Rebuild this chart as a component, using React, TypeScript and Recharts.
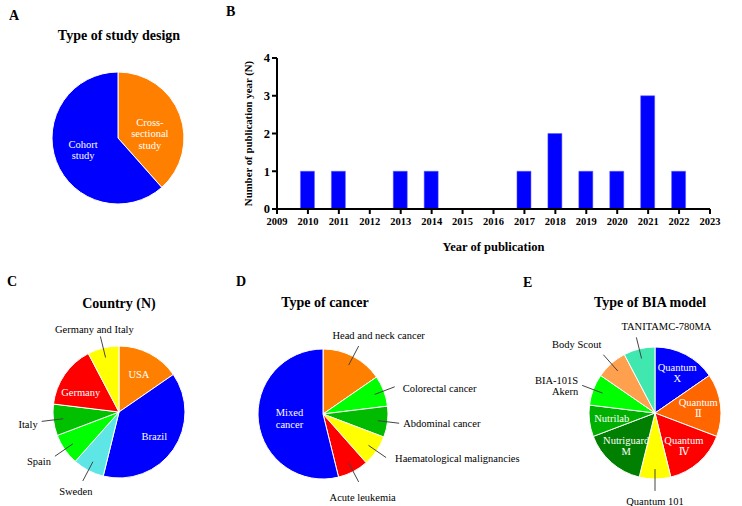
import React from "react";
import { PieChart, Pie, Cell, BarChart, Bar, XAxis, YAxis } from "recharts";

// ---------- Data ----------
const studyDesigns = ["Cross-\nsectional\nstudy", "Cohort\nstudy"];
const studyDesignCounts = [5, 8];

const years = [2010, 2011, 2012, 2013, 2014, 2015, 2016, 2017, 2018, 2019, 2020, 2021, 2022];
const yearCounts = [1, 1, 0, 1, 1, 0, 0, 1, 2, 1, 1, 3, 1];
const yearTicks = [2009, 2010, 2011, 2012, 2013, 2014, 2015, 2016, 2017, 2018, 2019, 2020, 2021, 2022, 2023];
const countTicks = [0, 1, 2, 3, 4];

const countries = ["USA", "Brazil", "Sweden", "Spain", "Italy", "Germany", "Germany and Italy"];
const countryCounts = [2, 5, 1, 1, 1, 2, 1];

const cancers = [
  "Head and neck cancer",
  "Colorectal cancer",
  "Abdominal cancer",
  "Haematological malignancies",
  "Acute leukemia",
  "Mixed\ncancer",
];
const cancerCounts = [2, 1, 1, 1, 1, 7];

const biaModels = [
  "Quantum\nX",
  "Quantum\nⅡ",
  "Quantum\nⅣ",
  "Quantum 101",
  "Nutriguard\nM",
  "Nutrilab",
  "BIA-101S\nAkern",
  "Body Scout",
  "TANITAMC-780MA",
];
const biaCounts = [2, 2, 2, 1, 2, 1, 1, 1, 1];

// ---------- Styles ----------
const FONT = "Liberation Serif, Tinos, Times New Roman, DejaVu Serif, serif";
const studyColors = ["#FF8000", "#0000FF"];
const countryColors = ["#FF8000", "#0000FF", "#5EE6E6", "#00FF00", "#00C000", "#FF0000", "#FFFF00"];
const cancerColors = ["#FF8000", "#00FF00", "#00BB00", "#FFFF00", "#FF0000", "#0000FF"];
const biaColors = ["#0000FF", "#FF6600", "#FF0000", "#FFFF00", "#007F00", "#00B000", "#00FF00", "#FFA04F", "#40E8B0"];

const countryOutside = ["Sweden", "Spain", "Italy", "Germany and Italy"];
const cancerOutside = [
  "Head and neck cancer",
  "Colorectal cancer",
  "Abdominal cancer",
  "Haematological malignancies",
  "Acute leukemia",
];
const biaOutside = ["Quantum 101", "BIA-101S\nAkern", "Body Scout", "TANITAMC-780MA"];
const labelNudge: Record<string, [number, number]> = {
  "Head and neck cancer": [20, -2],
  "TANITAMC-780MA": [30, -2],
  "Body Scout": [2, -11],
  "Acute leukemia": [4, 5],
  "Sweden": [-7, 0],
  "Spain": [0, 5],
  "Italy": [0, 3],
  "Germany and Italy": [-6, 2],
  "Colorectal cancer": [4, 1],
  "Haematological malignancies": [5, 0],
  "Cross-\nsectional\nstudy": [1, 7],
  "Cohort\nstudy": [-4, 0],
  "Germany": [-3, 4],
  "Quantum\nX": [2, -2],
};

const RAD = Math.PI / 180;
const LABEL_SIZE = 10.5;

function makeLabel(labels: string[], outside: string[], innerFactor: number) {
  return (p: any) => {
    const { cx, cy, midAngle, outerRadius, index } = p;
    const text = labels[index];
    const cos = Math.cos(-midAngle * RAD);
    const sin = Math.sin(-midAngle * RAD);
    const lines = text.split("\n");
    const n = labelNudge[text] || [0, 0];
    if (!outside.includes(text)) {
      const r = outerRadius * innerFactor;
      const x = cx + r * cos + n[0];
      const y = cy + r * sin + n[1];
      const lh = 11.5;
      const y0 = y - ((lines.length - 1) * lh) / 2;
      return (
        <text
          key={`in-${index}`}
          x={x}
          y={y0}
          fill="#fff"
          textAnchor="middle"
          dominantBaseline="central"
          style={{ fontFamily: FONT, fontSize: LABEL_SIZE }}
        >
          {lines.map((l, i) => (
            <tspan key={i} x={x} y={y0 + i * lh}>
              {l}
            </tspan>
          ))}
        </text>
      );
    }
    const x1 = cx + outerRadius * 0.85 * cos;
    const y1 = cy + outerRadius * 0.85 * sin;
    const x2 = cx + outerRadius * 1.18 * cos;
    const y2 = cy + outerRadius * 1.18 * sin;
    const anchor = Math.abs(cos) < 0.5 ? "middle" : cos > 0 ? "start" : "end";
    const tx = (anchor === "middle" ? x2 : x2 + (cos > 0 ? 4 : -4)) + n[0];
    const ty = (anchor === "middle" ? y2 + (sin > 0 ? 10 : -9) : y2) + n[1];
    const lh = 11;
    const y0 = ty - ((lines.length - 1) * lh) / 2;
    return (
      <g key={`out-${index}`}>
        <line x1={x1} y1={y1} x2={x2} y2={y2} stroke="#444" strokeWidth={1} />
        <text
          x={tx}
          y={y0}
          fill="#000"
          textAnchor={anchor}
          dominantBaseline="central"
          style={{ fontFamily: FONT, fontSize: LABEL_SIZE }}
        >
          {lines.map((l, i) => (
            <tspan key={i} x={tx} y={y0 + i * lh}>
              {l}
            </tspan>
          ))}
        </text>
      </g>
    );
  };
}

function toRows(labels: string[], values: number[]) {
  return labels.map((name, i) => ({ name, value: values[i] }));
}

const studyData = toRows(studyDesigns, studyDesignCounts);
const countryData = toRows(countries, countryCounts);
const cancerData = toRows(cancers, cancerCounts);
const biaData = toRows(biaModels, biaCounts);
const yearData = years.map((year, i) => ({ year, count: yearCounts[i] }));

const headings = [
  { t: "A", x: 9, y: 15, a: "start" },
  { t: "B", x: 226, y: 11, a: "start" },
  { t: "C", x: 7, y: 281, a: "start" },
  { t: "D", x: 236, y: 281, a: "start" },
  { t: "E", x: 523, y: 282, a: "start" },
  { t: "Type of study design", x: 119, y: 35, a: "middle" },
  { t: "Country (N)", x: 119, y: 303, a: "middle" },
  { t: "Type of cancer", x: 325, y: 302, a: "middle" },
  { t: "Type of BIA model", x: 650, y: 302, a: "middle" },
];

export default function App() {
  const pieCommon = {
    dataKey: "value",
    startAngle: 90,
    endAngle: -270,
    stroke: "#fff",
    strokeWidth: 1,
    labelLine: false,
    isAnimationActive: false,
  };
  return (
    <div style={{ position: "absolute", left: 0, top: 0, width: 742, height: 506, background: "#fff", fontFamily: FONT }}>
      <div style={{ position: "absolute", left: 0, top: 0 }}>
        <PieChart width={742} height={506} margin={{ top: 0, right: 0, bottom: 0, left: 0 }}>
          <Pie {...pieCommon} data={studyData} cx={118} cy={138} outerRadius={66} label={makeLabel(studyDesigns, [], 0.5)}>
            {studyData.map((_, i) => (
              <Cell key={i} fill={studyColors[i]} />
            ))}
          </Pie>
          <Pie {...pieCommon} data={countryData} cx={119} cy={412} outerRadius={66} label={makeLabel(countries, countryOutside, 0.65)}>
            {countryData.map((_, i) => (
              <Cell key={i} fill={countryColors[i]} />
            ))}
          </Pie>
          <Pie {...pieCommon} data={cancerData} cx={323} cy={414} outerRadius={65} label={makeLabel(cancers, cancerOutside, 0.52)}>
            {cancerData.map((_, i) => (
              <Cell key={i} fill={cancerColors[i]} />
            ))}
          </Pie>
          <Pie {...pieCommon} data={biaData} cx={655} cy={413} outerRadius={66} label={makeLabel(biaModels, biaOutside, 0.66)}>
            {biaData.map((_, i) => (
              <Cell key={i} fill={biaColors[i]} />
            ))}
          </Pie>
        </PieChart>
      </div>
      <div style={{ position: "absolute", left: 200, top: 30 }}>
        <BarChart width={530} height={233} data={yearData} margin={{ top: 28, right: 20, bottom: 10, left: 0 }}>
          <XAxis
            dataKey="year"
            type="number"
            domain={[2009, 2023]}
            ticks={yearTicks}
            interval={0}
            height={44}
            axisLine={{ stroke: "#000", strokeWidth: 2 }}
            tickLine={{ stroke: "#000", strokeWidth: 2 }}
            tickSize={5}
            tickMargin={4}
            tick={{ fill: "#000", fontSize: 10.5, fontWeight: "bold", fontFamily: FONT }}
            label={{
              value: "Year of publication",
              position: "insideBottom",
              offset: 2,
              style: { fill: "#000", fontSize: 12.5, fontWeight: "bold", fontFamily: FONT },
            }}
          />
          <YAxis
            type="number"
            domain={[0, 4]}
            ticks={countTicks}
            width={77}
            axisLine={{ stroke: "#000", strokeWidth: 2 }}
            tickLine={{ stroke: "#000", strokeWidth: 2 }}
            tickSize={5}
            tickMargin={2}
            tick={{ fill: "#000", fontSize: 12.5, fontWeight: "bold", fontFamily: FONT }}
            label={{
              value: "Number of publication year (N)",
              angle: -90,
              position: "insideLeft",
              offset: 48,
              style: { textAnchor: "middle", fill: "#000", fontSize: 10.8, fontWeight: "bold", fontFamily: FONT },
            }}
          />
          <Bar dataKey="count" fill="#0000FF" stroke="#5a5aff" strokeWidth={0.5} barSize={14} isAnimationActive={false} />
        </BarChart>
      </div>
      <svg width={742} height={506} style={{ position: "absolute", left: 0, top: 0, pointerEvents: "none" }}>
        {headings.map((h, i) => (
          <text
            key={i}
            x={h.x}
            y={h.y}
            textAnchor={h.a as any}
            dominantBaseline="central"
            fill="#000"
            style={{ fontFamily: FONT, fontWeight: "bold", fontSize: 14 }}
          >
            {h.t}
          </text>
        ))}
      </svg>
    </div>
  );
}
